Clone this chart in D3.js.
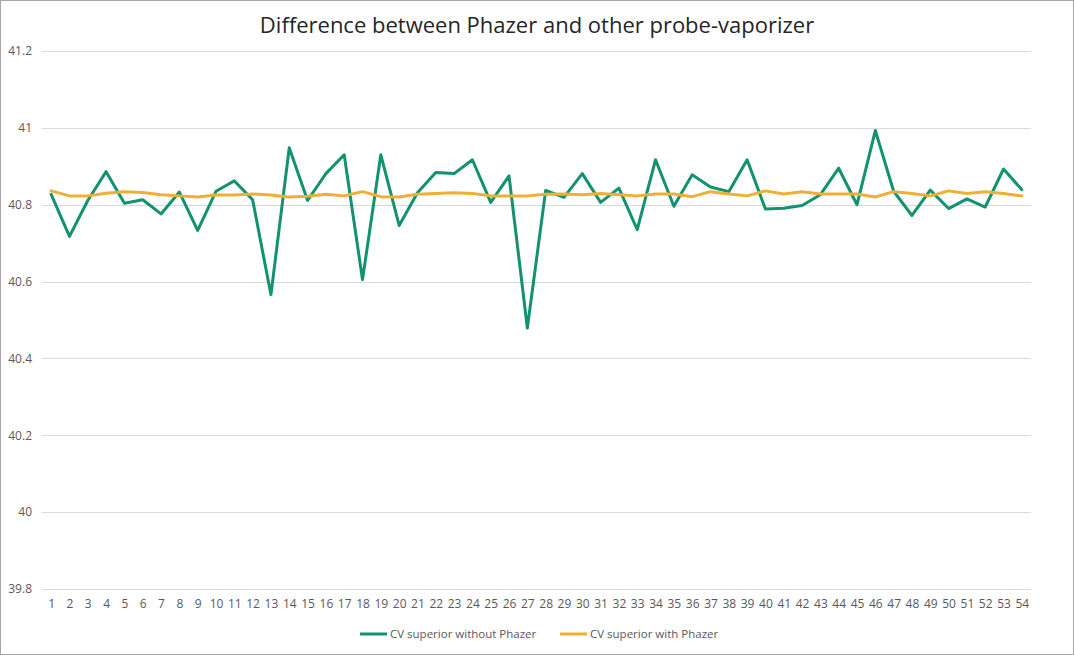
<!DOCTYPE html>
<html>
<head>
<meta charset="utf-8">
<script src="https://cdn.jsdelivr.net/npm/d3@7"></script>
<style>
  body { margin: 0; background: #fff; }
  text { font-family: "Open Sans", "Noto Sans", sans-serif; }
</style>
</head>
<body>
<div id="chart"></div>
<script>
var categories = d3.range(1, 55).map(String)

var withoutPhazer = [40.827, 40.7175, 40.811, 40.886, 40.804, 40.813, 40.776, 40.833, 40.733, 40.835,
    40.862, 40.813, 40.566, 40.948, 40.811, 40.881, 40.930, 40.605, 40.930, 40.746,
    40.831, 40.884, 40.881, 40.917, 40.806, 40.875, 40.479, 40.837, 40.819, 40.881,
    40.806, 40.843, 40.735, 40.917, 40.796, 40.878, 40.846, 40.834, 40.917, 40.789,
    40.791, 40.798, 40.826, 40.895, 40.800, 40.993, 40.835, 40.772, 40.838, 40.790,
    40.815, 40.794, 40.893, 40.839]

var withPhazer = [40.836, 40.823, 40.823, 40.830, 40.834, 40.832, 40.826, 40.823, 40.820, 40.825,
    40.825, 40.828, 40.825, 40.820, 40.822, 40.827, 40.823, 40.834, 40.821, 40.820,
    40.827, 40.829, 40.831, 40.829, 40.823, 40.823, 40.823, 40.827, 40.828, 40.826,
    40.829, 40.826, 40.823, 40.828, 40.828, 40.821, 40.834, 40.828, 40.823, 40.836,
    40.828, 40.834, 40.828, 40.828, 40.828, 40.820, 40.834, 40.829, 40.823, 40.836,
    40.829, 40.834, 40.829, 40.823]

var yTicks = [39.8, 40, 40.2, 40.4, 40.6, 40.8, 41, 41.2]

var seriesNames = ["CV superior without Phazer", "CV superior with Phazer"]
var seriesColors = ["#12926f", "#efaf33"]

var width = 1074, height = 655
var margin = { top: 51, right: 43, bottom: 66, left: 42 }

var svg = d3.select("#chart").append("svg")
    .attr("width", width)
    .attr("height", height)

// outer border
svg.append("rect")
    .attr("x", 0.5).attr("y", 0.5)
    .attr("width", width - 1).attr("height", height - 1)
    .attr("fill", "#fff")
    .attr("stroke", "#a6a6a6")

svg.append("text")
    .attr("x", width / 2)
    .attr("y", 33)
    .attr("text-anchor", "middle")
    .style("font-size", "22px")
    .style("fill", "#262626")
    .text("Difference between Phazer and other probe-vaporizer")

var x = d3.scalePoint()
    .domain(categories)
    .range([margin.left, width - margin.right])
    .padding(0.5)

var y = d3.scaleLinear()
    .domain([39.8, 41.2])
    .range([height - margin.bottom, margin.top])

var g = svg.append("g")

// gridlines
g.selectAll(".grid")
    .data(yTicks)
    .enter().append("line")
    .attr("x1", margin.left)
    .attr("x2", width - margin.right)
    .attr("y1", function (d) { return Math.round(y(d)) + 0.5 })
    .attr("y2", function (d) { return Math.round(y(d)) + 0.5 })
    .attr("stroke", "#d9d9d9")

// y axis labels
var yAxis = svg.append("g")
    .attr("transform", "translate(" + (margin.left - 10) + ",0)")
    .call(d3.axisLeft(y).tickValues(yTicks).tickSize(0).tickPadding(0).tickFormat(function (d) { return String(+d.toFixed(1)) }))
yAxis.select(".domain").remove()
yAxis.selectAll("text")
    .style("font-family", '"Open Sans", "Noto Sans", sans-serif')
    .style("font-size", "12px")
    .style("fill", "#595959")

// x axis labels
var xAxis = svg.append("g")
    .attr("transform", "translate(0," + (height - margin.bottom + 10) + ")")
    .call(d3.axisBottom(x).tickSize(0).tickPadding(0))
xAxis.select(".domain").remove()
xAxis.selectAll("text")
    .style("font-family", '"Open Sans", "Noto Sans", sans-serif')
    .style("font-size", "12px")
    .style("fill", "#595959")

var line = d3.line()
    .x(function (d, i) { return x(categories[i]) })
    .y(function (d) { return y(d) })

;[withoutPhazer, withPhazer].forEach(function (s, k) {
    g.append("path")
        .datum(s)
        .attr("d", line)
        .attr("fill", "none")
        .attr("stroke", seriesColors[k])
        .attr("stroke-width", 3)
        .attr("stroke-linejoin", "round")
        .attr("stroke-linecap", "round")
})

// legend
var legendX = [360, 560]
var legend = svg.selectAll(".legend")
    .data(seriesNames)
    .enter().append("g")
    .attr("transform", function (d, i) { return "translate(" + legendX[i] + "," + 634 + ")" })
legend.append("line")
    .attr("x1", 0).attr("x2", 27)
    .attr("stroke", function (d, i) { return seriesColors[i] })
    .attr("stroke-width", 3)
legend.append("text")
    .attr("x", 30)
    .attr("dy", "0.35em")
    .style("font-size", "11.5px")
    .style("fill", "#595959")
    .text(function (d) { return d })
</script>
</body>
</html>
